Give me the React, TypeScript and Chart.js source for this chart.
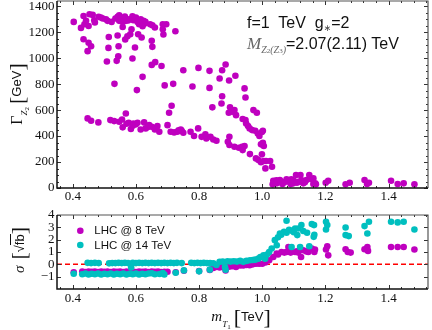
import React, { useEffect, useRef } from 'react';
import { Chart, registerables } from 'chart.js';

Chart.register(...registerables);

// ---------- axis ranges & tick labels ----------
const MASS_MIN = 0.35;
const MASS_MAX = 1.525;
const MASS_TICKS = [0.4, 0.6, 0.8, 1.0, 1.2, 1.4];
const WIDTH_MIN = 0;
const WIDTH_MAX = 1440;
const WIDTH_TICKS = [0, 200, 400, 600, 800, 1000, 1200, 1400];
const SIGMA_MIN = -2;
const SIGMA_MAX = 4;
const SIGMA_TICKS = [-1, 0, 1, 2, 3, 4];
const SERIES_LABELS = ['LHC @ 8 TeV', 'LHC @ 14 TeV'];

// ---------- top panel: width of Z2 (GeV) vs m_T1 (TeV) ----------
const widthPoints: [number, number][] = [
  [0.403, 1279], [0.426, 1233], [0.434, 1325], [0.437, 1261], [0.442, 1287], [0.45, 1248], [0.453, 1338],
  [0.463, 1333], [0.468, 1292], [0.47, 1274], [0.482, 1318], [0.489, 1312], [0.495, 1305], [0.505, 1300],
  [0.51, 1287], [0.523, 1279], [0.535, 1305], [0.542, 1318], [0.547, 1330], [0.552, 1305], [0.547, 1287],
  [0.555, 1310], [0.558, 1279], [0.565, 1320], [0.568, 1287], [0.57, 1300], [0.575, 1290], [0.579, 1300],
  [0.589, 1323], [0.592, 1292], [0.595, 1305], [0.6, 1312], [0.6, 1295], [0.605, 1279], [0.61, 1261],
  [0.612, 1290], [0.615, 1300], [0.624, 1287], [0.628, 1266], [0.63, 1280], [0.621, 1246], [0.645, 1261],
  [0.652, 1253], [0.66, 1236], [0.558, 1240], [0.685, 1261], [0.696, 1261], [0.685, 1223], [0.725, 1207],
  [0.687, 1182], [0.586, 1223], [0.582, 1184], [0.573, 1169], [0.566, 1143], [0.607, 1184], [0.618, 1159],
  [0.542, 1174], [0.514, 1163], [0.434, 1146], [0.45, 1118], [0.458, 1092], [0.447, 1054], [0.513, 1079],
  [0.545, 1092], [0.597, 1082], [0.65, 1133], [0.652, 1087], [0.544, 1015], [0.508, 974], [0.539, 979],
  [0.589, 997],
  [0.661, 969], [0.65, 948], [0.681, 940], [0.75, 907], [0.798, 925], [0.833, 902], [0.873, 907],
  [0.884, 951], [0.915, 864], [0.895, 828], [0.865, 843], [0.621, 856], [0.532, 802], [0.603, 754],
  [0.691, 790], [0.718, 802], [0.779, 782], [0.833, 771], [0.944, 767], [0.947, 697], [0.873, 707],
  [0.871, 651], [0.842, 621], [0.898, 621], [0.894, 579], [0.905, 587], [0.912, 600], [0.917, 561],
  [0.972, 600], [0.983, 579], [0.938, 531], [0.947, 523], [0.949, 497], [0.955, 477], [0.96, 459],
  [0.968, 446], [0.978, 441], [0.986, 420], [0.991, 400], [0.999, 431], [1.002, 441], [1.002, 348],
  [1.005, 323], [0.996, 336], [0.999, 259], [1.005, 208], [1.012, 208], [1.025, 208], [1.031, 164],
  [1.01, 151],
  [0.447, 536], [0.458, 518], [0.481, 505], [0.519, 523], [0.531, 515], [0.547, 510], [0.556, 528],
  [0.558, 467], [0.568, 574], [0.57, 495], [0.577, 502], [0.584, 454], [0.59, 480], [0.592, 497],
  [0.6, 490], [0.605, 502], [0.626, 505], [0.615, 451], [0.631, 459], [0.638, 470], [0.642, 484],
  [0.65, 472], [0.66, 451], [0.665, 465], [0.668, 477], [0.674, 433], [0.7, 484], [0.705, 579],
  [0.713, 633], [0.71, 433], [0.721, 428], [0.731, 433], [0.735, 445], [0.742, 451], [0.745, 440],
  [0.75, 425], [0.773, 433], [0.784, 400], [0.797, 459], [0.808, 394], [0.82, 413], [0.823, 382],
  [0.836, 394], [0.845, 374], [0.855, 364], [0.891, 356], [0.896, 331], [0.896, 394], [0.912, 318],
  [0.926, 310], [0.936, 318], [0.944, 323], [0.938, 292], [0.961, 261], [0.98, 228], [0.988, 215],
  [0.996, 198],
  [1.035, 56], [1.033, 28], [1.038, 49], [1.045, 60], [1.046, 36], [1.05, 50], [1.056, 62], [1.064, 31],
  [1.07, 45], [1.077, 67], [1.085, 49], [1.09, 30], [1.092, 67], [1.098, 36], [1.1, 55], [1.107, 100],
  [1.11, 40], [1.121, 100], [1.117, 49], [1.125, 60], [1.13, 36], [1.135, 45], [1.14, 62], [1.149, 100],
  [1.156, 67], [1.162, 31], [1.162, 74], [1.168, 36], [1.17, 28], [1.201, 41], [1.209, 56], [1.264, 28],
  [1.277, 41], [1.324, 62], [1.332, 31], [1.338, 41], [1.408, 56], [1.429, 31], [1.448, 36], [1.482, 28],
];

// ---------- bottom panel: significance sigma [sqrt(fb)] ----------
const lhc8Points: [number, number][] = [
  [0.403, -0.65], [0.43, -0.58], [0.44, -0.62], [0.45, -0.58], [0.46, -0.6], [0.47, -0.58], [0.48, -0.62],
  [0.49, -0.58], [0.5, -0.6], [0.51, -0.58], [0.52, -0.62], [0.53, -0.58], [0.54, -0.6], [0.55, -0.58],
  [0.56, -0.62], [0.57, -0.58], [0.58, -0.6], [0.59, -0.58], [0.6, -0.62], [0.61, -0.58], [0.62, -0.6],
  [0.63, -0.58], [0.64, -0.62], [0.65, -0.58], [0.66, -0.6], [0.67, -0.58], [0.68, -0.62], [0.69, -0.6],
  [0.7, -0.6], [0.726, -0.65], [0.752, -0.52], [0.8, -0.55], [0.834, -0.45], [0.845, -0.3], [0.854, -0.22],
  [0.865, -0.25], [0.875, -0.2], [0.884, -0.5], [0.895, -0.2], [0.905, -0.15], [0.917, -0.22], [0.93, -0.1],
  [0.94, -0.1], [0.95, -0.05], [0.96, -0.08], [0.97, 0.0], [0.98, 0.05], [0.99, 0.05], [1.0, 0.05],
  [1.01, 0.15], [1.022, 0.33],
  [1.035, 0.6], [1.046, 0.87], [1.05, 0.8], [1.061, 1.0], [1.07, 0.95], [1.077, 1.0], [1.083, 1.41],
  [1.09, 0.95], [1.093, 1.06], [1.104, 1.0], [1.11, 1.05], [1.114, 0.95], [1.123, 0.6], [1.13, 1.14],
  [1.14, 1.05], [1.146, 1.0], [1.157, 1.28], [1.165, 1.0], [1.167, 1.2], [1.202, 1.2], [1.206, 1.47],
  [1.209, 0.73], [1.264, 1.22], [1.271, 1.0], [1.28, 0.95], [1.324, 1.22], [1.333, 1.41], [1.335, 1.09],
  [1.408, 1.41], [1.429, 1.41], [1.448, 1.41], [1.482, 1.2],
];

const lhc14Points: [number, number][] = [
  [0.403, -0.76], [0.43, -0.8], [0.44, -0.74], [0.45, -0.82], [0.46, -0.76], [0.47, -0.8], [0.48, -0.74],
  [0.49, -0.82], [0.5, -0.76], [0.51, -0.8], [0.52, -0.74], [0.53, -0.82], [0.54, -0.76], [0.55, -0.8],
  [0.56, -0.74], [0.57, -0.82], [0.58, -0.76], [0.59, -0.8], [0.6, -0.74], [0.61, -0.82], [0.62, -0.76],
  [0.63, -0.8], [0.64, -0.74], [0.65, -0.72], [0.66, -0.8], [0.675, -0.78], [0.685, -0.7], [0.69, -0.82],
  [0.726, -0.68], [0.752, -0.49], [0.8, -0.57], [0.834, -0.43], [0.882, -0.22],
  [0.447, 0.12], [0.458, 0.1], [0.47, 0.12], [0.482, 0.1], [0.515, 0.08], [0.525, 0.1], [0.535, 0.1],
  [0.545, 0.12], [0.555, 0.1], [0.565, 0.12], [0.575, 0.1], [0.585, -0.25], [0.59, 0.12], [0.6, 0.1],
  [0.61, 0.12], [0.62, 0.1], [0.63, 0.12], [0.64, 0.1], [0.65, 0.12], [0.66, 0.1], [0.67, 0.12],
  [0.68, 0.1], [0.69, 0.12], [0.7, 0.1], [0.71, 0.12], [0.72, 0.1], [0.73, 0.12], [0.745, 0.1],
  [0.775, 0.12], [0.785, 0.1], [0.795, 0.12], [0.805, 0.1], [0.815, 0.12], [0.825, 0.1], [0.835, 0.1],
  [0.845, 0.08], [0.855, -0.05], [0.865, 0.2], [0.875, 0.22], [0.884, -0.44], [0.89, 0.25], [0.9, 0.22],
  [0.91, 0.25], [0.92, 0.22], [0.93, 0.28], [0.94, 0.2], [0.95, 0.28], [0.961, 0.33], [0.97, 0.35],
  [0.978, 0.38], [0.988, 0.46], [0.994, 0.6], [1.004, 0.73], [1.009, 0.46], [1.015, 0.8],
  [1.022, 1.0], [1.03, 1.28], [1.04, 1.96], [1.046, 1.55], [1.05, 2.2], [1.056, 2.5], [1.06, 2.4],
  [1.069, 2.64], [1.077, 2.56], [1.077, 3.53], [1.085, 2.8], [1.093, 2.72], [1.093, 1.41], [1.1, 2.6],
  [1.104, 2.91], [1.111, 2.37], [1.114, 2.91], [1.12, 1.41], [1.124, 3.18], [1.13, 2.7], [1.142, 2.56],
  [1.149, 1.47], [1.157, 3.27], [1.163, 2.23], [1.164, 3.18], [1.165, 2.4], [1.202, 3.45], [1.206, 3.18],
  [1.202, 2.83], [1.264, 2.99], [1.264, 2.37], [1.274, 2.29], [1.324, 3.1], [1.338, 3.45], [1.333, 2.5],
  [1.408, 3.45], [1.429, 3.4], [1.448, 3.45], [1.482, 2.83],
];

// ---------- styling ----------
const PURPLE = 'rgb(191,0,191)';
const CYAN = 'rgb(0,191,191)';
const RED = 'rgb(255,0,0)';
const SERIF = "'Liberation Serif', 'Times New Roman', serif";
const SANS = "'Liberation Sans', Arial, sans-serif";
const DOT_R = 3.3;

const toXY = (pts: [number, number][]) => pts.map(([x, y]) => ({ x, y }));

const framePlugin = {
  id: 'frameTicks',
  afterDatasetsDraw(chart: any, _args: any, opts: any) {
    const { ctx, chartArea } = chart;
    const { left, right, top, bottom } = chartArea;
    const xs = chart.scales.x;
    const ys = chart.scales.y;
    const minors = (min: number, max: number, step: number) => {
      const out: number[] = [];
      const k0 = Math.ceil(min / step - 1e-9);
      const k1 = Math.floor(max / step + 1e-9);
      for (let k = k0; k <= k1; k++) out.push(k * step);
      return out;
    };
    ctx.save();
    ctx.strokeStyle = '#333';
    ctx.lineWidth = 1;
    const xTick = (v: number, len: number) => {
      const px = Math.round(xs.getPixelForValue(v)) + 0.5;
      ctx.beginPath();
      ctx.moveTo(px, bottom);
      ctx.lineTo(px, bottom - len);
      ctx.moveTo(px, top);
      ctx.lineTo(px, top + len);
      ctx.stroke();
    };
    const yTick = (v: number, len: number) => {
      const py = Math.round(ys.getPixelForValue(v)) + 0.5;
      ctx.beginPath();
      ctx.moveTo(left, py);
      ctx.lineTo(left + len, py);
      ctx.moveTo(right, py);
      ctx.lineTo(right - len, py);
      ctx.stroke();
    };
    if (opts.xMinor) minors(xs.min, xs.max, opts.xMinor).forEach((v) => xTick(v, 2));
    if (opts.yMinor) minors(ys.min, ys.max, opts.yMinor).forEach((v) => yTick(v, 2));
    xs.ticks.forEach((t: any) => xTick(t.value, 4));
    ys.ticks.forEach((t: any) => yTick(t.value, 4));
    // frame
    ctx.lineWidth = 1.2;
    ctx.strokeStyle = '#555';
    ctx.beginPath();
    ctx.moveTo(left, top);
    ctx.lineTo(right, top);
    ctx.lineTo(right, bottom);
    ctx.stroke();
    ctx.lineWidth = 1.5;
    ctx.strokeStyle = '#111';
    ctx.beginPath();
    ctx.moveTo(left, top);
    ctx.lineTo(left, bottom);
    ctx.lineTo(right, bottom);
    ctx.stroke();
    ctx.restore();
  },
};

const insideLegendPlugin = {
  id: 'insideLegend',
  afterDatasetsDraw(chart: any, _args: any, opts: any) {
    if (!opts || !opts.display) return;
    const { ctx, chartArea } = chart;
    let row = 0;
    ctx.save();
    ctx.font = `${opts.fontSize}px ${SANS}`;
    ctx.textBaseline = 'middle';
    ctx.textAlign = 'left';
    chart.data.datasets.forEach((ds: any) => {
      if (!ds.label) return;
      const cy = chartArea.top + opts.y + row * opts.rowGap;
      const cx = chartArea.left + opts.x;
      ctx.fillStyle = ds.backgroundColor;
      ctx.beginPath();
      ctx.arc(cx, cy, DOT_R, 0, Math.PI * 2);
      ctx.fill();
      ctx.fillStyle = '#111';
      ctx.fillText(ds.label, cx + opts.textGap, cy + 0.5);
      row++;
    });
    ctx.restore();
  },
};

const tickFont = { family: SERIF, size: 13 };

function linearAxis(ticks: number[], min: number, max: number, fmt: (v: number) => string, isX: boolean, fit: number, pad: number) {
  return {
    type: 'linear' as const,
    min,
    max,
    afterBuildTicks: (s: any) => {
      s.ticks = ticks.map((v) => ({ value: v }));
    },
    afterFit: (s: any) => {
      if (isX) s.height = fit;
      else s.width = fit;
      s.paddingLeft = 0;
      s.paddingRight = 0;
      s.paddingTop = 0;
      s.paddingBottom = 0;
    },
    grid: { display: false, drawTicks: false },
    border: { display: false },
    ticks: {
      font: tickFont,
      color: '#111',
      padding: pad,
      maxRotation: 0,
      minRotation: 0,
      autoSkip: false,
      callback: (v: any) => fmt(Number(v)),
    },
  };
}

const fmtMass = (v: number) => v.toFixed(1);
const fmtInt = (v: number) => (v < 0 ? '\u2212' + Math.abs(v) : String(v));

export default function App() {
  const topRef = useRef<HTMLCanvasElement>(null);
  const botRef = useRef<HTMLCanvasElement>(null);

  useEffect(() => {
    const topChart = new Chart(topRef.current as HTMLCanvasElement, {
      type: 'scatter',
      data: {
        datasets: [
          {
            data: toXY(widthPoints),
            backgroundColor: PURPLE,
            pointBackgroundColor: PURPLE,
            pointBorderWidth: 0,
            pointRadius: DOT_R,
            pointHoverRadius: DOT_R,
          } as any,
        ],
      },
      options: {
        responsive: false,
        animation: false,
        events: [],
        layout: { padding: { top: 1, right: 4, left: 0, bottom: 0 }, autoPadding: false } as any,
        scales: {
          x: linearAxis(MASS_TICKS, MASS_MIN, MASS_MAX, fmtMass, true, 17, 1.2),
          y: linearAxis(WIDTH_TICKS, WIDTH_MIN, WIDTH_MAX, fmtInt, false, 57, 2.5),
        } as any,
        plugins: {
          legend: { display: false },
          tooltip: { enabled: false },
          frameTicks: { xMinor: 0.04, yMinor: 50 },
        } as any,
      },
      plugins: [framePlugin],
    });

    const botChart = new Chart(botRef.current as HTMLCanvasElement, {
      type: 'scatter',
      data: {
        datasets: [
          {
            label: SERIES_LABELS[0],
            data: toXY(lhc8Points),
            backgroundColor: PURPLE,
            pointBackgroundColor: PURPLE,
            pointBorderWidth: 0,
            pointRadius: DOT_R,
            pointHoverRadius: DOT_R,
            order: 1,
          } as any,
          {
            label: SERIES_LABELS[1],
            data: toXY(lhc14Points),
            backgroundColor: CYAN,
            pointBackgroundColor: CYAN,
            pointBorderWidth: 0,
            pointRadius: DOT_R,
            pointHoverRadius: DOT_R,
            order: 0,
          } as any,
          {
            data: [
              { x: MASS_MIN, y: 0 },
              { x: MASS_MAX, y: 0 },
            ],
            showLine: true,
            borderColor: RED,
            borderWidth: 1.5,
            borderDash: [5, 3],
            pointRadius: 0,
            order: 2,
          } as any,
        ],
      },
      options: {
        responsive: false,
        animation: false,
        events: [],
        layout: { padding: { top: 10, right: 4, left: 0, bottom: 0 }, autoPadding: false } as any,
        scales: {
          x: linearAxis(MASS_TICKS, MASS_MIN, MASS_MAX, fmtMass, true, 41, 2.2),
          y: linearAxis(SIGMA_TICKS, SIGMA_MIN, SIGMA_MAX, fmtInt, false, 57, 2.5),
        } as any,
        plugins: {
          legend: { display: false },
          tooltip: { enabled: false },
          frameTicks: { xMinor: 0.04, yMinor: 0 },
          insideLegend: { display: true, x: 23.3, y: 15.7, rowGap: 14.3, textGap: 14, fontSize: 11.5 },
        } as any,
      },
      plugins: [framePlugin, insideLegendPlugin],
    });

    return () => {
      topChart.destroy();
      botChart.destroy();
    };
  }, []);

  const rotTitle = (cx: number, cy: number): React.CSSProperties => ({
    position: 'absolute',
    left: cx,
    top: cy,
    transform: 'translate(-50%, -50%) rotate(-90deg)',
    whiteSpace: 'nowrap',
    lineHeight: 1,
    color: '#111',
  });
  const bracket: React.CSSProperties = { fontFamily: SERIF, fontSize: 22, verticalAlign: 'middle', fontWeight: 'normal' };
  const unit: React.CSSProperties = { fontFamily: SANS, fontSize: 13, verticalAlign: 'middle' };

  return (
    <div style={{ position: 'absolute', left: 0, top: 0, width: 432, height: 330, background: '#fff', overflow: 'hidden' }}>
      <canvas ref={topRef} width={432} height={205} style={{ position: 'absolute', left: 0, top: 0, display: 'block' }} />
      <canvas ref={botRef} width={432} height={125} style={{ position: 'absolute', left: 0, top: 205, display: 'block' }} />

      {/* top y-axis title */}
      <div style={rotTitle(18, 94)}>
        <span style={{ fontFamily: SERIF, fontSize: 16, verticalAlign: 'middle' }}>Γ</span>
        <span style={{ fontFamily: SERIF, fontStyle: 'italic', fontSize: 9, verticalAlign: -6 }}>
          Z<span style={{ fontSize: 7, fontStyle: 'normal', verticalAlign: -2 }}>2</span>
        </span>
        <span style={{ ...bracket, marginLeft: 3 }}>[</span>
        <span style={unit}>GeV</span>
        <span style={bracket}>]</span>
      </div>

      {/* bottom y-axis title */}
      <div style={rotTitle(19, 250)}>
        <span style={{ fontFamily: SERIF, fontStyle: 'italic', fontSize: 15, verticalAlign: 'middle' }}>σ</span>
        <span style={{ ...bracket, marginLeft: 6 }}>[</span>
        <span style={unit}>
          √<span style={{ borderTop: '1px solid #111', paddingTop: 1 }}>fb</span>
        </span>
        <span style={bracket}>]</span>
      </div>

      {/* x-axis title */}
      <div style={{ position: 'absolute', left: 241, top: 318, transform: 'translate(-50%, -50%)', whiteSpace: 'nowrap', lineHeight: 1, color: '#111' }}>
        <span style={{ fontFamily: SERIF, fontStyle: 'italic', fontSize: 15, verticalAlign: 'middle' }}>m</span>
        <span style={{ fontFamily: SERIF, fontStyle: 'italic', fontSize: 9, verticalAlign: -6 }}>
          T<span style={{ fontSize: 7, fontStyle: 'normal', verticalAlign: -2 }}>1</span>
        </span>
        <span style={{ ...bracket, marginLeft: 3 }}>[</span>
        <span style={unit}>TeV</span>
        <span style={bracket}>]</span>
      </div>

      {/* annotation */}
      <div style={{ position: 'absolute', left: 247, top: 14.5, fontFamily: SANS, fontSize: 16, lineHeight: '16px', whiteSpace: 'pre', color: '#111' }}>
        {'f=1  TeV  g'}
        <span style={{ fontFamily: "'DejaVu Sans', sans-serif", fontSize: 9, verticalAlign: -3, color: '#444' }}>{'\u2217'}</span>
        {'=2'}
      </div>
      <div style={{ position: 'absolute', left: 247, top: 36, fontFamily: SANS, fontSize: 16, lineHeight: '16px', whiteSpace: 'pre', color: '#111' }}>
        <span style={{ fontFamily: SERIF, fontStyle: 'italic', fontSize: 17, color: '#666' }}>M</span>
        <span style={{ fontFamily: SERIF, fontStyle: 'italic', fontSize: 10, color: '#666', verticalAlign: -4 }}>
          Z<span style={{ fontSize: 7, fontStyle: 'normal' }}>2</span>(Z<span style={{ fontSize: 7, fontStyle: 'normal' }}>3</span>)
        </span>
        {'=2.07(2.11) TeV'}
      </div>
    </div>
  );
}
